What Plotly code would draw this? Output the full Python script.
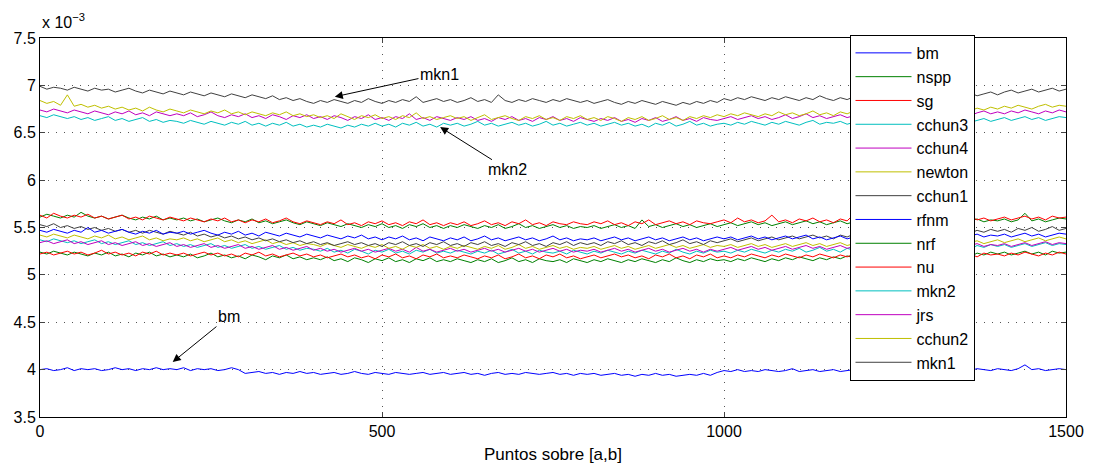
import plotly.graph_objects as go

x = list(range(0, 1501, 10))

names = ["bm", "nspp", "sg", "cchun3", "cchun4", "newton", "cchun1",
         "rfnm", "nrf", "nu", "mkn2", "jrs", "cchun2", "mkn1"]
colors = ["#0000ff", "#008000", "#ff0000", "#00bfbf", "#bf00bf", "#bfbf00", "#404040",
          "#0000ff", "#008000", "#ff0000", "#00bfbf", "#bf00bf", "#bfbf00", "#404040"]

bm = [4.00, 4.01, 3.99, 4.00, 4.02, 3.99, 4.01, 4.00, 4.01, 3.99, 4.00, 4.02, 4.00, 4.01, 3.99, 4.01, 4.00, 4.02, 4.00, 4.01,
      4.00, 4.02, 3.99, 4.01, 4.00, 4.01, 3.99, 4.00, 4.02, 4.00, 3.96, 3.97, 3.98, 3.96, 3.97, 3.95, 3.97, 3.96, 3.98, 3.96,
      3.97, 3.95, 3.96, 3.97, 3.95, 3.96, 3.98, 3.96, 3.95, 3.97, 3.96, 3.95, 3.97, 3.96, 3.95, 3.96, 3.97, 3.95, 3.96, 3.97,
      3.95, 3.96, 3.97, 3.95, 3.96, 3.94, 3.96, 3.97, 3.95, 3.96, 3.95, 3.97, 3.96, 3.95, 3.96, 3.97, 3.95, 3.96, 3.94, 3.96,
      3.95, 3.96, 3.94, 3.95, 3.96, 3.94, 3.95, 3.93, 3.95, 3.94, 3.96, 3.94, 3.95, 3.93, 3.94, 3.95, 3.94, 3.96, 3.94, 3.97,
      3.99, 3.98, 4.00, 3.98, 3.99, 3.98, 4.00, 3.99, 3.98, 3.99, 4.01, 3.98, 3.99, 4.00, 3.98, 3.99, 4.00, 3.98, 3.99, 4.00,
      3.99, 4.00, 3.98, 4.00, 3.99, 4.01, 3.99, 4.00, 3.98, 4.00, 3.99, 4.01, 4.00, 3.99, 4.01, 4.00, 3.99, 4.01, 4.00, 3.99,
      4.01, 4.00, 3.99, 4.01, 4.05, 4.00, 4.01, 3.99, 4.00, 4.01, 4.00]
nspp = [5.61, 5.64, 5.62, 5.60, 5.63, 5.61, 5.66, 5.62, 5.60, 5.62, 5.59, 5.61, 5.63, 5.60, 5.58, 5.61, 5.59, 5.62, 5.58, 5.60,
        5.58, 5.60, 5.57, 5.59, 5.56, 5.58, 5.60, 5.57, 5.55, 5.58, 5.56, 5.59, 5.55, 5.57, 5.54, 5.56, 5.58, 5.55, 5.53, 5.56,
        5.54, 5.52, 5.55, 5.53, 5.51, 5.54, 5.52, 5.50, 5.53, 5.51, 5.54, 5.50, 5.52, 5.49, 5.53, 5.51, 5.54, 5.50, 5.52, 5.49,
        5.52, 5.50, 5.53, 5.51, 5.49, 5.52, 5.50, 5.53, 5.49, 5.51, 5.54, 5.50, 5.52, 5.49, 5.51, 5.53, 5.50, 5.52, 5.49, 5.51,
        5.50, 5.52, 5.49, 5.51, 5.53, 5.50, 5.52, 5.49, 5.58, 5.51, 5.53, 5.50, 5.52, 5.54, 5.51, 5.53, 5.50, 5.52, 5.54, 5.51,
        5.53, 5.55, 5.52, 5.54, 5.56, 5.53, 5.55, 5.52, 5.54, 5.56, 5.53, 5.55, 5.57, 5.54, 5.56, 5.53, 5.55, 5.57, 5.54, 5.56,
        5.55, 5.57, 5.54, 5.56, 5.58, 5.55, 5.57, 5.60, 5.56, 5.58, 5.55, 5.57, 5.59, 5.56, 5.58, 5.55, 5.57, 5.59, 5.56, 5.58,
        5.57, 5.59, 5.56, 5.58, 5.65, 5.57, 5.59, 5.56, 5.58, 5.60, 5.59]
sg = [5.63, 5.60, 5.65, 5.62, 5.60, 5.63, 5.61, 5.64, 5.60, 5.62, 5.59, 5.61, 5.63, 5.59, 5.61, 5.58, 5.62, 5.60, 5.58, 5.61,
      5.59, 5.57, 5.60, 5.58, 5.56, 5.59, 5.57, 5.60, 5.56, 5.58, 5.55, 5.58, 5.56, 5.59, 5.55, 5.57, 5.60, 5.56, 5.54, 5.57,
      5.55, 5.53, 5.56, 5.54, 5.58, 5.53, 5.55, 5.52, 5.56, 5.54, 5.57, 5.53, 5.55, 5.52, 5.56, 5.54, 5.58, 5.53, 5.55, 5.52,
      5.55, 5.53, 5.56, 5.52, 5.54, 5.57, 5.53, 5.55, 5.52, 5.56, 5.54, 5.58, 5.53, 5.55, 5.52, 5.56, 5.54, 5.53, 5.56, 5.54,
      5.53, 5.56, 5.54, 5.57, 5.53, 5.55, 5.52, 5.56, 5.54, 5.58, 5.53, 5.55, 5.57, 5.54, 5.56, 5.53, 5.57, 5.55, 5.54, 5.56,
      5.58, 5.55, 5.60, 5.56, 5.58, 5.55, 5.57, 5.63, 5.56, 5.58, 5.55, 5.59, 5.57, 5.60, 5.56, 5.58, 5.55, 5.59, 5.57, 5.64,
      5.57, 5.59, 5.56, 5.58, 5.60, 5.57, 5.59, 5.56, 5.60, 5.58, 5.61, 5.57, 5.59, 5.56, 5.60, 5.58, 5.62, 5.58, 5.60, 5.57,
      5.59, 5.61, 5.58, 5.60, 5.62, 5.59, 5.61, 5.58, 5.62, 5.60, 5.61]
cchun3 = [5.37, 5.35, 5.38, 5.36, 5.34, 5.36, 5.33, 5.35, 5.37, 5.33, 5.35, 5.32, 5.34, 5.36, 5.32, 5.34, 5.31, 5.33, 5.35, 5.31,
          5.33, 5.30, 5.32, 5.29, 5.31, 5.33, 5.29, 5.31, 5.28, 5.30, 5.32, 5.28, 5.30, 5.27, 5.29, 5.31, 5.27, 5.29, 5.26, 5.28,
          5.27, 5.25, 5.28, 5.24, 5.26, 5.23, 5.27, 5.25, 5.22, 5.26, 5.24, 5.27, 5.23, 5.25, 5.22, 5.26, 5.24, 5.27, 5.23, 5.25,
          5.23, 5.26, 5.24, 5.22, 5.25, 5.23, 5.26, 5.22, 5.24, 5.27, 5.23, 5.25, 5.22, 5.26, 5.24, 5.23, 5.25, 5.22, 5.26, 5.24,
          5.22, 5.25, 5.23, 5.26, 5.24, 5.22, 5.25, 5.23, 5.26, 5.24, 5.22, 5.25, 5.23, 5.27, 5.24, 5.22, 5.25, 5.23, 5.26, 5.24,
          5.25, 5.23, 5.26, 5.24, 5.27, 5.25, 5.23, 5.26, 5.24, 5.27, 5.25, 5.28, 5.24, 5.26, 5.29, 5.25, 5.27, 5.24, 5.28, 5.26,
          5.27, 5.29, 5.26, 5.28, 5.30, 5.27, 5.29, 5.26, 5.30, 5.28, 5.31, 5.27, 5.29, 5.32, 5.28, 5.30, 5.27, 5.31, 5.29, 5.32,
          5.30, 5.32, 5.29, 5.31, 5.33, 5.30, 5.32, 5.34, 5.31, 5.33, 5.32]
cchun4 = [5.34, 5.36, 5.33, 5.35, 5.37, 5.33, 5.35, 5.32, 5.34, 5.36, 5.32, 5.34, 5.31, 5.33, 5.35, 5.31, 5.33, 5.30, 5.32, 5.34,
          5.30, 5.32, 5.29, 5.31, 5.33, 5.29, 5.31, 5.28, 5.30, 5.32, 5.28, 5.30, 5.27, 5.29, 5.31, 5.27, 5.29, 5.26, 5.28, 5.30,
          5.26, 5.28, 5.25, 5.27, 5.24, 5.26, 5.28, 5.25, 5.27, 5.24, 5.26, 5.28, 5.25, 5.27, 5.24, 5.29, 5.25, 5.27, 5.24, 5.26,
          5.28, 5.25, 5.27, 5.24, 5.26, 5.28, 5.25, 5.27, 5.24, 5.26, 5.28, 5.25, 5.27, 5.24, 5.26, 5.28, 5.25, 5.27, 5.24, 5.26,
          5.25, 5.27, 5.24, 5.26, 5.28, 5.25, 5.27, 5.24, 5.26, 5.28, 5.25, 5.27, 5.24, 5.26, 5.28, 5.25, 5.27, 5.24, 5.27, 5.25,
          5.27, 5.29, 5.26, 5.28, 5.30, 5.27, 5.29, 5.26, 5.28, 5.30, 5.27, 5.29, 5.31, 5.28, 5.30, 5.27, 5.29, 5.31, 5.28, 5.30,
          5.29, 5.31, 5.28, 5.30, 5.32, 5.29, 5.31, 5.28, 5.30, 5.32, 5.29, 5.31, 5.33, 5.30, 5.32, 5.29, 5.31, 5.33, 5.30, 5.32,
          5.31, 5.33, 5.30, 5.32, 5.34, 5.31, 5.33, 5.35, 5.32, 5.34, 5.33]
newton = [5.42, 5.40, 5.43, 5.41, 5.39, 5.42, 5.40, 5.38, 5.41, 5.39, 5.42, 5.38, 5.40, 5.37, 5.39, 5.41, 5.37, 5.39, 5.36, 5.38,
          5.37, 5.39, 5.36, 5.38, 5.35, 5.37, 5.39, 5.35, 5.37, 5.34, 5.36, 5.33, 5.35, 5.37, 5.33, 5.35, 5.32, 5.34, 5.31, 5.33,
          5.32, 5.30, 5.33, 5.31, 5.29, 5.32, 5.30, 5.28, 5.31, 5.29, 5.32, 5.28, 5.30, 5.27, 5.31, 5.29, 5.32, 5.28, 5.30, 5.27,
          5.30, 5.28, 5.31, 5.29, 5.27, 5.30, 5.28, 5.31, 5.27, 5.29, 5.32, 5.28, 5.30, 5.27, 5.29, 5.31, 5.28, 5.30, 5.27, 5.29,
          5.28, 5.30, 5.27, 5.29, 5.31, 5.28, 5.30, 5.27, 5.29, 5.31, 5.28, 5.30, 5.32, 5.29, 5.31, 5.28, 5.30, 5.32, 5.29, 5.31,
          5.30, 5.32, 5.29, 5.31, 5.33, 5.30, 5.32, 5.29, 5.31, 5.33, 5.30, 5.32, 5.34, 5.31, 5.33, 5.30, 5.32, 5.34, 5.31, 5.33,
          5.32, 5.34, 5.31, 5.33, 5.35, 5.32, 5.34, 5.36, 5.33, 5.35, 5.32, 5.34, 5.36, 5.33, 5.35, 5.37, 5.34, 5.36, 5.33, 5.35,
          5.37, 5.34, 5.36, 5.38, 5.35, 5.37, 5.39, 5.36, 5.38, 5.40, 5.38]
cchun1 = [5.53, 5.51, 5.54, 5.50, 5.52, 5.49, 5.51, 5.48, 5.50, 5.47, 5.49, 5.46, 5.48, 5.45, 5.47, 5.44, 5.47, 5.45, 5.43, 5.46,
          5.44, 5.42, 5.45, 5.41, 5.43, 5.40, 5.42, 5.39, 5.41, 5.38, 5.40, 5.37, 5.39, 5.36, 5.38, 5.35, 5.37, 5.34, 5.36, 5.33,
          5.35, 5.32, 5.34, 5.31, 5.33, 5.35, 5.32, 5.34, 5.31, 5.33, 5.30, 5.34, 5.32, 5.35, 5.31, 5.33, 5.30, 5.34, 5.32, 5.35,
          5.31, 5.33, 5.30, 5.34, 5.32, 5.35, 5.31, 5.33, 5.30, 5.34, 5.32, 5.35, 5.31, 5.33, 5.30, 5.34, 5.32, 5.35, 5.31, 5.34,
          5.32, 5.34, 5.31, 5.35, 5.33, 5.36, 5.32, 5.34, 5.31, 5.35, 5.33, 5.36, 5.32, 5.34, 5.37, 5.33, 5.35, 5.32, 5.36, 5.34,
          5.36, 5.38, 5.35, 5.37, 5.39, 5.36, 5.38, 5.40, 5.37, 5.39, 5.41, 5.38, 5.40, 5.42, 5.39, 5.41, 5.38, 5.42, 5.40, 5.43,
          5.41, 5.43, 5.40, 5.44, 5.42, 5.45, 5.41, 5.43, 5.46, 5.42, 5.44, 5.47, 5.43, 5.45, 5.42, 5.46, 5.44, 5.47, 5.45, 5.48,
          5.46, 5.48, 5.45, 5.49, 5.47, 5.50, 5.46, 5.48, 5.51, 5.47, 5.49]
rfnm = [5.47, 5.45, 5.48, 5.46, 5.44, 5.47, 5.45, 5.50, 5.45, 5.47, 5.44, 5.46, 5.48, 5.45, 5.43, 5.46, 5.44, 5.47, 5.43, 5.45,
        5.44, 5.46, 5.43, 5.45, 5.47, 5.44, 5.42, 5.45, 5.43, 5.46, 5.42, 5.44, 5.41, 5.45, 5.43, 5.41, 5.44, 5.42, 5.40, 5.43,
        5.41, 5.39, 5.42, 5.40, 5.38, 5.41, 5.39, 5.42, 5.38, 5.40, 5.37, 5.40, 5.38, 5.41, 5.37, 5.39, 5.36, 5.40, 5.38, 5.36,
        5.39, 5.37, 5.40, 5.36, 5.38, 5.41, 5.37, 5.39, 5.36, 5.38, 5.40, 5.37, 5.39, 5.36, 5.38, 5.41, 5.37, 5.39, 5.36, 5.38,
        5.37, 5.39, 5.36, 5.38, 5.40, 5.37, 5.39, 5.36, 5.38, 5.40, 5.37, 5.39, 5.36, 5.38, 5.40, 5.37, 5.39, 5.36, 5.38, 5.40,
        5.38, 5.40, 5.37, 5.39, 5.41, 5.38, 5.40, 5.37, 5.39, 5.41, 5.38, 5.40, 5.42, 5.38, 5.40, 5.37, 5.39, 5.41, 5.38, 5.40,
        5.39, 5.41, 5.38, 5.40, 5.42, 5.39, 5.41, 5.38, 5.40, 5.42, 5.39, 5.41, 5.43, 5.40, 5.42, 5.39, 5.41, 5.43, 5.40, 5.42,
        5.41, 5.43, 5.40, 5.42, 5.44, 5.41, 5.43, 5.40, 5.42, 5.44, 5.43]
nrf = [5.24, 5.22, 5.25, 5.23, 5.21, 5.24, 5.22, 5.20, 5.23, 5.21, 5.24, 5.20, 5.22, 5.19, 5.23, 5.21, 5.24, 5.20, 5.22, 5.19,
       5.21, 5.19, 5.22, 5.18, 5.20, 5.23, 5.19, 5.21, 5.18, 5.20, 5.17, 5.21, 5.19, 5.16, 5.20, 5.18, 5.21, 5.17, 5.19, 5.16,
       5.18, 5.16, 5.19, 5.15, 5.17, 5.14, 5.18, 5.16, 5.13, 5.17, 5.15, 5.18, 5.14, 5.16, 5.13, 5.17, 5.15, 5.18, 5.14, 5.16,
       5.14, 5.17, 5.15, 5.13, 5.16, 5.14, 5.17, 5.13, 5.15, 5.18, 5.14, 5.16, 5.13, 5.17, 5.15, 5.14, 5.16, 5.13, 5.17, 5.15,
       5.13, 5.16, 5.14, 5.17, 5.15, 5.13, 5.16, 5.14, 5.17, 5.15, 5.13, 5.16, 5.14, 5.18, 5.15, 5.13, 5.16, 5.14, 5.17, 5.15,
       5.16, 5.14, 5.17, 5.15, 5.18, 5.16, 5.14, 5.17, 5.15, 5.18, 5.16, 5.19, 5.17, 5.15, 5.18, 5.16, 5.19, 5.17, 5.20, 5.18,
       5.19, 5.21, 5.18, 5.20, 5.22, 5.19, 5.21, 5.18, 5.22, 5.20, 5.23, 5.19, 5.21, 5.24, 5.20, 5.22, 5.19, 5.23, 5.21, 5.24,
       5.22, 5.24, 5.21, 5.23, 5.25, 5.22, 5.24, 5.21, 5.25, 5.23, 5.24]
nu = [5.22, 5.24, 5.21, 5.23, 5.25, 5.22, 5.24, 5.21, 5.23, 5.26, 5.22, 5.24, 5.21, 5.23, 5.20, 5.24, 5.22, 5.25, 5.21, 5.23,
      5.21, 5.23, 5.20, 5.22, 5.24, 5.21, 5.23, 5.20, 5.22, 5.19, 5.23, 5.21, 5.24, 5.20, 5.22, 5.19, 5.21, 5.23, 5.20, 5.22,
      5.19, 5.21, 5.18, 5.20, 5.22, 5.19, 5.21, 5.18, 5.20, 5.17, 5.21, 5.19, 5.22, 5.18, 5.20, 5.17, 5.21, 5.19, 5.22, 5.18,
      5.20, 5.18, 5.21, 5.19, 5.17, 5.20, 5.18, 5.21, 5.17, 5.19, 5.22, 5.18, 5.20, 5.17, 5.21, 5.19, 5.22, 5.18, 5.20, 5.17,
      5.19, 5.21, 5.18, 5.20, 5.22, 5.19, 5.21, 5.18, 5.20, 5.17, 5.21, 5.19, 5.22, 5.18, 5.20, 5.17, 5.21, 5.19, 5.22, 5.18,
      5.20, 5.18, 5.21, 5.19, 5.22, 5.20, 5.18, 5.21, 5.19, 5.22, 5.20, 5.18, 5.21, 5.19, 5.22, 5.20, 5.18, 5.21, 5.19, 5.22,
      5.20, 5.22, 5.19, 5.21, 5.23, 5.20, 5.22, 5.19, 5.21, 5.23, 5.20, 5.22, 5.19, 5.21, 5.24, 5.20, 5.22, 5.19, 5.23, 5.21,
      5.22, 5.20, 5.23, 5.21, 5.24, 5.22, 5.20, 5.23, 5.21, 5.24, 5.22]
mkn2 = [6.68, 6.66, 6.69, 6.67, 6.65, 6.67, 6.64, 6.66, 6.63, 6.65, 6.67, 6.63, 6.65, 6.62, 6.64, 6.66, 6.62, 6.64, 6.61, 6.63,
        6.62, 6.60, 6.63, 6.61, 6.59, 6.62, 6.60, 6.58, 6.61, 6.59, 6.62, 6.58, 6.60, 6.57, 6.60, 6.58, 6.61, 6.57, 6.59, 6.56,
        6.58, 6.56, 6.59, 6.57, 6.55, 6.58, 6.56, 6.59, 6.57, 6.60, 6.57, 6.59, 6.56, 6.60, 6.58, 6.61, 6.57, 6.59, 6.56, 6.60,
        6.58, 6.60, 6.57, 6.59, 6.62, 6.58, 6.60, 6.57, 6.59, 6.61, 6.58, 6.60, 6.57, 6.59, 6.62, 6.58, 6.60, 6.57, 6.59, 6.61,
        6.58, 6.60, 6.57, 6.59, 6.61, 6.58, 6.60, 6.57, 6.59, 6.56, 6.60, 6.58, 6.61, 6.57, 6.59, 6.62, 6.58, 6.60, 6.57, 6.59,
        6.60, 6.58, 6.61, 6.59, 6.62, 6.60, 6.58, 6.61, 6.59, 6.62, 6.60, 6.58, 6.61, 6.63, 6.59, 6.61, 6.60, 6.62, 6.59, 6.61,
        6.60, 6.62, 6.60, 6.63, 6.61, 6.64, 6.61, 6.63, 6.60, 6.62, 6.64, 6.61, 6.63, 6.65, 6.62, 6.64, 6.61, 6.63, 6.65, 6.62,
        6.64, 6.66, 6.63, 6.65, 6.67, 6.64, 6.66, 6.63, 6.65, 6.67, 6.66]
jrs = [6.74, 6.72, 6.75, 6.73, 6.71, 6.74, 6.72, 6.70, 6.73, 6.71, 6.69, 6.72, 6.70, 6.73, 6.69, 6.71, 6.68, 6.72, 6.70, 6.68,
       6.70, 6.68, 6.71, 6.67, 6.69, 6.72, 6.68, 6.66, 6.69, 6.67, 6.70, 6.66, 6.68, 6.65, 6.69, 6.67, 6.64, 6.68, 6.66, 6.69,
       6.65, 6.67, 6.64, 6.68, 6.66, 6.63, 6.67, 6.65, 6.69, 6.64, 6.66, 6.63, 6.67, 6.65, 6.70, 6.64, 6.66, 6.63, 6.67, 6.65,
       6.63, 6.66, 6.64, 6.67, 6.63, 6.65, 6.62, 6.66, 6.64, 6.67, 6.63, 6.65, 6.62, 6.66, 6.64, 6.67, 6.63, 6.65, 6.62, 6.66,
       6.64, 6.62, 6.65, 6.63, 6.66, 6.62, 6.64, 6.61, 6.65, 6.63, 6.66, 6.62, 6.64, 6.67, 6.63, 6.65, 6.62, 6.66, 6.64, 6.63,
       6.65, 6.67, 6.64, 6.66, 6.68, 6.65, 6.67, 6.64, 6.66, 6.69, 6.65, 6.67, 6.70, 6.66, 6.68, 6.65, 6.67, 6.69, 6.66, 6.68,
       6.67, 6.69, 6.66, 6.70, 6.68, 6.71, 6.67, 6.69, 6.72, 6.68, 6.70, 6.67, 6.71, 6.69, 6.72, 6.70, 6.68, 6.71, 6.73, 6.70,
       6.72, 6.70, 6.73, 6.71, 6.74, 6.72, 6.70, 6.73, 6.71, 6.74, 6.72]
cchun2 = [6.84, 6.81, 6.83, 6.79, 6.90, 6.78, 6.80, 6.77, 6.79, 6.76, 6.78, 6.75, 6.77, 6.74, 6.76, 6.73, 6.77, 6.74, 6.72, 6.75,
          6.73, 6.71, 6.74, 6.72, 6.70, 6.73, 6.71, 6.74, 6.70, 6.72, 6.69, 6.72, 6.70, 6.68, 6.71, 6.69, 6.72, 6.68, 6.70, 6.67,
          6.69, 6.66, 6.68, 6.65, 6.70, 6.67, 6.64, 6.68, 6.66, 6.69, 6.65, 6.67, 6.64, 6.68, 6.66, 6.71, 6.65, 6.67, 6.64, 6.66,
          6.68, 6.65, 6.67, 6.63, 6.66, 6.69, 6.64, 6.66, 6.68, 6.65, 6.63, 6.67, 6.65, 6.68, 6.64, 6.66, 6.63, 6.67, 6.65, 6.68,
          6.64, 6.66, 6.63, 6.67, 6.65, 6.62, 6.66, 6.64, 6.67, 6.63, 6.65, 6.68, 6.64, 6.66, 6.63, 6.67, 6.65, 6.68, 6.66, 6.69,
          6.67, 6.70, 6.68, 6.71, 6.69, 6.67, 6.70, 6.68, 6.72, 6.69, 6.71, 6.68, 6.70, 6.73, 6.69, 6.71, 6.68, 6.72, 6.70, 6.73,
          6.71, 6.74, 6.72, 6.70, 6.73, 6.71, 6.75, 6.72, 6.74, 6.71, 6.76, 6.73, 6.75, 6.72, 6.74, 6.77, 6.73, 6.76, 6.74, 6.77,
          6.75, 6.78, 6.76, 6.79, 6.77, 6.75, 6.78, 6.80, 6.77, 6.79, 6.78]
mkn1 = [6.99, 6.96, 6.98, 6.97, 6.95, 6.98, 6.96, 6.94, 6.97, 6.95, 6.96, 6.93, 6.95, 6.97, 6.94, 6.92, 6.95, 6.93, 6.91, 6.94,
        6.92, 6.90, 6.93, 6.91, 6.89, 6.92, 6.90, 6.88, 6.91, 6.89, 6.87, 6.90, 6.88, 6.86, 6.89, 6.85, 6.87, 6.84, 6.86, 6.83,
        6.81, 6.84, 6.82, 6.85, 6.83, 6.81, 6.84, 6.82, 6.86, 6.83, 6.81, 6.84, 6.82, 6.85, 6.83, 6.88, 6.82, 6.84, 6.86, 6.83,
        6.85, 6.82, 6.84, 6.87, 6.83, 6.85, 6.82, 6.90, 6.84, 6.82, 6.85, 6.83, 6.86, 6.84, 6.82, 6.85, 6.83, 6.86, 6.84, 6.82,
        6.84, 6.81, 6.83, 6.85, 6.82, 6.80, 6.83, 6.81, 6.84, 6.82, 6.80, 6.83, 6.81, 6.79, 6.82, 6.80, 6.83, 6.81, 6.84, 6.82,
        6.86, 6.84, 6.87, 6.85, 6.88, 6.86, 6.84, 6.87, 6.85, 6.88, 6.86, 6.84, 6.87, 6.85, 6.89, 6.86, 6.84, 6.87, 6.85, 6.88,
        6.86, 6.88, 6.85, 6.87, 6.89, 6.86, 6.88, 6.90, 6.87, 6.89, 6.86, 6.91, 6.88, 6.90, 6.87, 6.89, 6.92, 6.89, 6.91, 6.93,
        6.90, 6.93, 6.95, 6.92, 6.94, 6.96, 6.93, 6.95, 6.97, 6.94, 6.96]

series = [bm, nspp, sg, cchun3, cchun4, newton, cchun1, rfnm, nrf, nu, mkn2, jrs, cchun2, mkn1]

yticks = [3.5, 4, 4.5, 5, 5.5, 6, 6.5, 7, 7.5]
ytick_labels = ["3.5", "4", "4.5", "5", "5.5", "6", "6.5", "7", "7.5"]
xticks = [0, 500, 1000, 1500]
x_title = "Puntos sobre [a,b]"

FONT = "Liberation Sans, Arial, sans-serif"

fig = go.Figure()
for name, col, ys in zip(names, colors, series):
    fig.add_trace(go.Scatter(x=x[:len(ys)], y=ys, mode="lines", name=name,
                             line=dict(color=col, width=1)))

# annotations with arrows
arrows = [("mkn1", 584, 7.12, 431, 6.88),
          ("mkn2", 684, 6.11, 585, 6.56),
          ("bm", 276, 4.56, 194, 4.08)]
for txt, tx, ty, px, py in arrows:
    fig.add_annotation(x=px, y=py, ax=tx, ay=ty, xref="x", yref="y", axref="x", ayref="y",
                       text=txt, showarrow=True, arrowhead=2, arrowsize=1.6, arrowwidth=1,
                       arrowcolor="black", font=dict(family=FONT, size=16, color="black"))

fig.add_annotation(x=0, y=1.045, xref="paper", yref="paper", xanchor="left", yanchor="middle",
                   text="x 10<sup>−3</sup>", showarrow=False,
                   font=dict(family=FONT, size=16, color="black"))

fig.update_layout(
    width=1093, height=466,
    margin=dict(l=40, r=27, t=38, b=49),
    paper_bgcolor="white", plot_bgcolor="white",
    font=dict(family=FONT, size=16, color="black"),
    showlegend=True,
    legend=dict(x=0.789, y=1.008, xanchor="left", yanchor="top",
                bgcolor="white", bordercolor="black", borderwidth=1,
                font=dict(family=FONT, size=16, color="black"),
                tracegroupgap=0, itemwidth=56, maxheight=420),
    xaxis=dict(range=[0, 1500], tickvals=xticks, ticks="inside", ticklen=5,
               showline=True, linecolor="black", linewidth=1, mirror="allticks",
               showgrid=True, gridcolor="#555555", griddash="1px,7px", gridwidth=1,
               zeroline=False, automargin=False,
               title=dict(text=x_title, standoff=8,
                          font=dict(family=FONT, size=17, color="black")),
               tickfont=dict(family=FONT, size=16)),
    yaxis=dict(range=[3.5, 7.5], tickvals=yticks, ticktext=ytick_labels, ticks="inside", ticklen=5,
               showline=True, linecolor="black", linewidth=1, mirror="allticks",
               showgrid=True, gridcolor="#555555", griddash="1px,7px", gridwidth=1,
               zeroline=False, automargin=False, tickfont=dict(family=FONT, size=16)),
)

fig.write_html("out.html")
